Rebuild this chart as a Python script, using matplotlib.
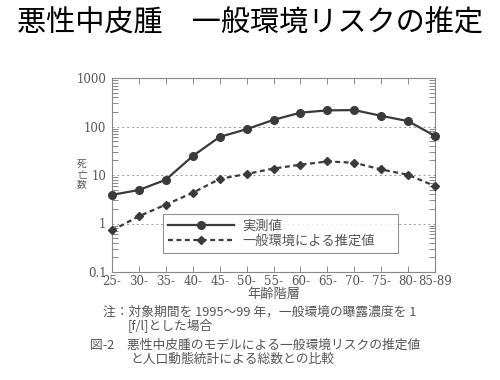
import matplotlib
matplotlib.use("Agg")
import matplotlib.pyplot as plt
from matplotlib.ticker import LogLocator, NullFormatter, FixedLocator

plt.rcParams['font.family'] = ['Noto Sans CJK JP', 'DejaVu Sans']

age_labels = ["25-", "30-", "35-", "40-", "45-", "50-", "55-", "60-", "65-", "70-", "75-", "80-", "85-89"]
observed = [3.9, 4.9, 8.0, 24.6, 61, 88, 137, 193, 215, 218, 166, 129, 64]
estimated = [0.72, 1.41, 2.45, 4.3, 8.3, 10.5, 13.6, 16.3, 19.0, 17.9, 13.0, 10.1, 5.9]
series_names = ["実測値", "一般環境による推定値"]
y_ticks = [0.1, 1, 10, 100, 1000]
y_ticklabels = ["0.1", "1", "10", "100", "1000"]

title = "悪性中皮腫　一般環境リスクの推定"
xlabel = "年齢階層"
ylabel_chars = ["死", "亡", "数"]
note1 = "注：対象期間を 1995～99 年，一般環境の曝露濃度を 1"
note2 = "[f/l]とした場合"
cap1 = "図-2　悪性中皮腫のモデルによる一般環境リスクの推定値"
cap2 = "と人口動態統計による総数との比較"

W, H = 500, 380
fig = plt.figure(figsize=(W / 100, H / 100), dpi=100)
ax = fig.add_axes([112 / W, 1 - 272 / H, (435 - 112) / W, (272 - 78) / H])

x = list(range(len(age_labels)))
lc = "#3a3a3a"
ax.plot(x, observed, '-', color=lc, lw=1.6, marker='o', ms=5.5, label=series_names[0], clip_on=False, zorder=3)
ax.plot(x, estimated, '--', color=lc, lw=1.6, marker='D', ms=3.8, dashes=(2.2, 1.6), label=series_names[1], clip_on=False, zorder=3)

ax.set_yscale('log')
ax.set_ylim(0.1, 1000)
ax.set_xlim(0, len(age_labels) - 1)
ax.yaxis.set_major_locator(FixedLocator(y_ticks))
ax.set_yticklabels(y_ticklabels, family='DejaVu Serif', fontsize=8.5, color='#555555')
ax.yaxis.set_minor_locator(LogLocator(base=10, subs=range(2, 10), numticks=20))
ax.yaxis.set_minor_formatter(NullFormatter())
ax.set_xticks(x)
ax.set_xticklabels(age_labels, family='DejaVu Serif', fontsize=8.5, color='#555555')
ax.tick_params(axis='both', which='both', direction='in', top=True, right=True, color='#777777')
ax.tick_params(axis='y', which='major', length=0, pad=4)
ax.tick_params(axis='y', which='minor', length=4, width=0.6)
ax.tick_params(axis='x', which='major', length=4, width=0.6, pad=2)
for sp in ax.spines.values():
    sp.set_color('#888888')
    sp.set_linewidth(0.8)

for v in [1, 10, 100]:
    ax.axhline(v, color='#999999', lw=0.7, ls=(0, (2, 3)), zorder=1)

leg = ax.legend(loc='lower left', bbox_to_anchor=(0.158, 0.098, 0.727, 0.19), mode='expand',
                borderaxespad=0.0, frameon=True, fancybox=False, handlelength=5.0, fontsize=9.5,
                borderpad=0.4, labelspacing=0.15, handletextpad=0.6)
leg.get_frame().set_edgecolor('#777777')
leg.get_frame().set_linewidth(0.8)
for t in leg.get_texts():
    t.set_color('#555555')

fig.text(0.5, 1 - 23 / H, title, ha='center', va='center', fontsize=21, color='black')
for i, ch in enumerate(ylabel_chars):
    fig.text(82 / W, 1 - (164 + 10 * i) / H, ch, ha='center', va='center', fontsize=7, color='#555555')
fig.text(274 / W, 1 - 294 / H, xlabel, ha='center', va='center', fontsize=9.5, color='#555555')
fig.text(103 / W, 1 - 312 / H, note1, ha='left', va='center', fontsize=9.2, color='#555555')
fig.text(128 / W, 1 - 325 / H, note2, ha='left', va='center', fontsize=9.2, color='#555555')
fig.text(90 / W, 1 - 345 / H, cap1, ha='left', va='center', fontsize=9.2, color='#555555')
fig.text(130 / W, 1 - 359 / H, cap2, ha='left', va='center', fontsize=9.2, color='#555555')

fig.savefig("out.png", dpi=100)
